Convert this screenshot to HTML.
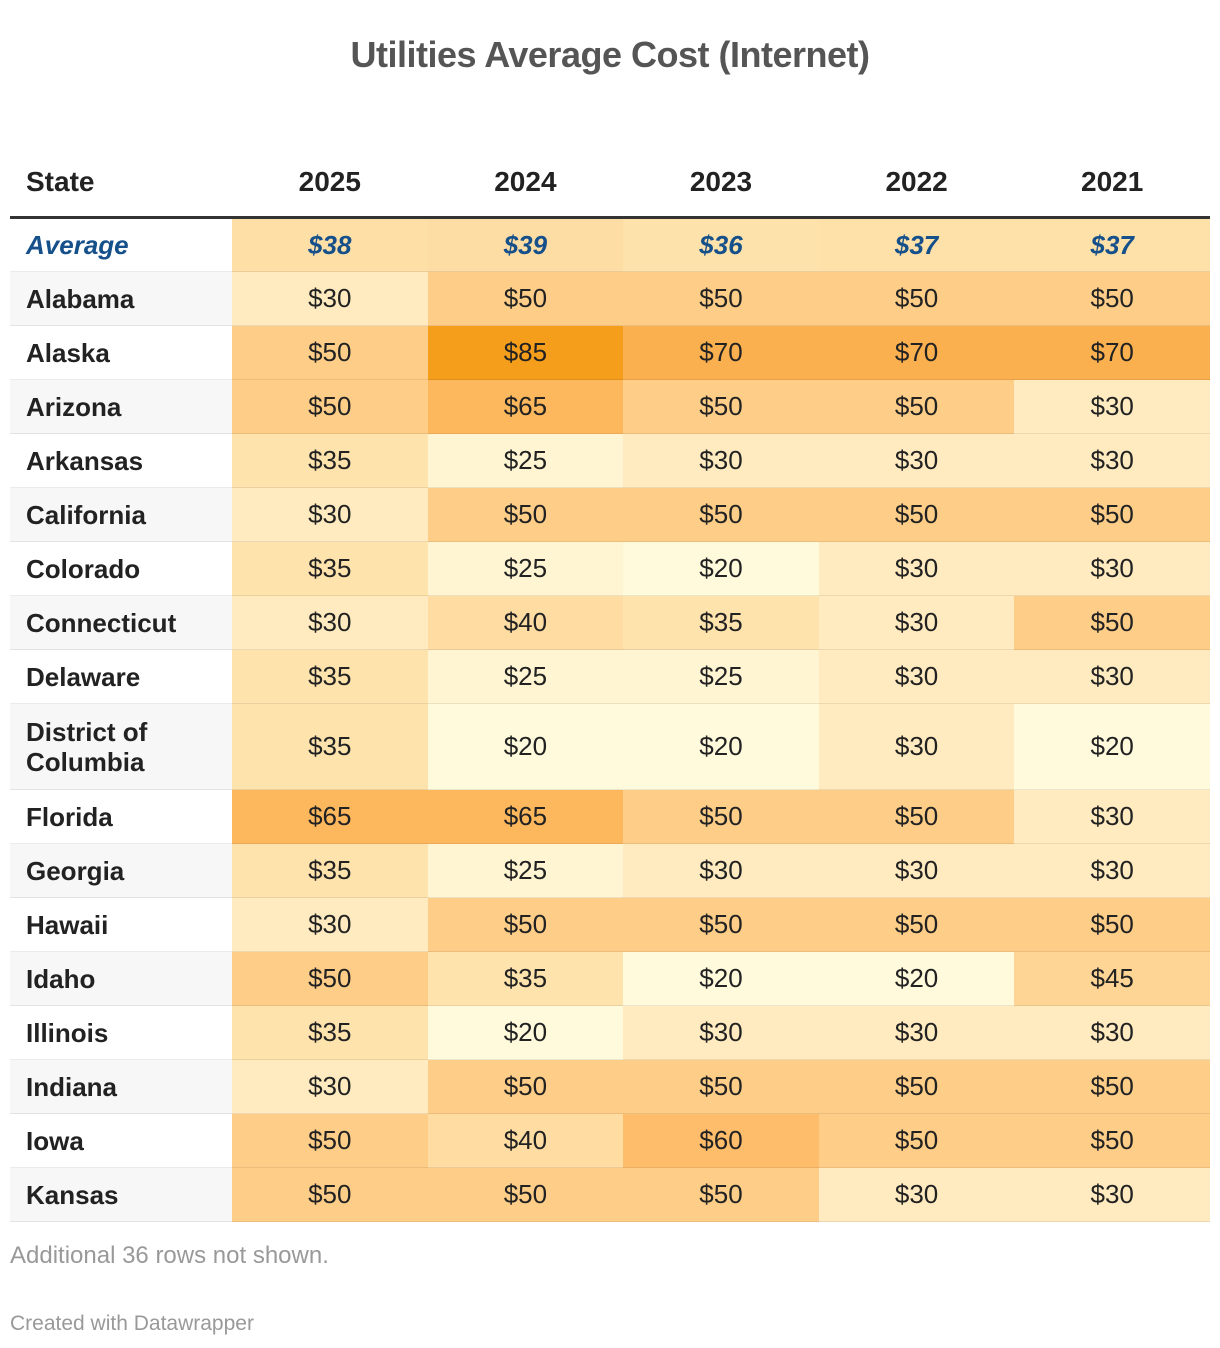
<!DOCTYPE html>
<html><head><meta charset="utf-8"><style>
body{margin:0;width:1220px;height:1348px;background:#fff;font-family:"Liberation Sans",Roboto,sans-serif;position:relative;overflow:hidden}
h1{position:absolute;top:34px;left:0;width:1220px;text-align:center;margin:0;font-size:36px;font-weight:bold;color:#555;letter-spacing:-0.5px}
#tbl{position:absolute;left:10px;top:152px;width:1200px}
.hdr{position:absolute;top:0;height:64px;font-weight:bold;font-size:28px;color:#222;line-height:60px}
.line{position:absolute;left:0;top:64px;width:1200px;height:3px;background:#333}
.cell{position:absolute;box-sizing:border-box;display:flex;align-items:center;justify-content:center;font-size:26px;color:#222;border-bottom:1px solid rgba(0,0,0,0.08)}
.st{justify-content:flex-start;padding-left:16px;font-weight:bold;line-height:30px}
.foot{position:absolute;left:10px;color:#999}
</style></head><body>
<h1>Utilities Average Cost (Internet)</h1>
<div id="tbl"></div>
<div class="foot" style="top:1242px;font-size:24px">Additional 36 rows not shown.</div>
<div class="foot" style="top:1312px;font-size:21px">Created with Datawrapper</div>
<script>
const years=["2025","2024","2023","2022","2021"];
const states=["Alabama","Alaska","Arizona","Arkansas","California","Colorado","Connecticut","Delaware","District of Columbia","Florida","Georgia","Hawaii","Idaho","Illinois","Indiana","Iowa","Kansas"];
const averages=[38,39,36,37,37];
const v2025=[30,50,50,35,30,35,30,35,35,65,35,30,50,35,30,50,50];
const v2024=[50,85,65,25,50,25,40,25,20,65,25,50,35,20,50,40,50];
const v2023=[50,70,50,30,50,20,35,25,20,50,30,50,20,30,50,60,50];
const v2022=[50,70,50,30,50,30,30,30,30,50,30,50,20,30,50,50,30];
const v2021=[50,70,30,30,50,30,50,30,20,30,30,50,45,30,50,50,30];
const series=[v2025,v2024,v2023,v2022,v2021];
const stops=[[20,[255,250,220]],[25,[255,245,210]],[30,[255,235,191]],[35,[254,227,173]],[40,[254,220,162]],[50,[254,206,136]],[60,[253,189,106]],[65,[253,184,94]],[70,[251,176,80]],[85,[245,158,28]]];
function color(v){for(let i=0;i<stops.length-1;i++){const a=stops[i],b=stops[i+1];if(v<=b[0]){const t=Math.max(0,(v-a[0])/(b[0]-a[0]));return 'rgb('+a[1].map((c,k)=>Math.round(c+(b[1][k]-c)*t)).join(',')+')';}}return 'rgb(245,158,28)';}
const T=document.getElementById('tbl');
const CW=195.6;
const colX=i=>222+i*CW;
function add(cls,x,y,w,h,txt,style){const d=document.createElement('div');d.className=cls;d.style.cssText=`left:${x}px;top:${y}px;width:${w}px;height:${h}px;`+(style||'');d.textContent=txt;T.appendChild(d);return d;}
let h=add('hdr',16,0,200,64,'State');


years.forEach((y,i)=>{const e=add('hdr',colX(i),0,CW,64,y,'text-align:center');

});
const ln=document.createElement('div');ln.className='line';T.appendChild(ln);


let y=67;
let a=add('cell st',0,y,222,53,'Average','color:#15508a;font-style:italic;');


averages.forEach((v,i)=>{const c=add('cell',colX(i),y,CW,53,'$'+v,'background:'+color(v)+';color:#15508a;font-style:italic;font-weight:bold;');

});
y+=53;
states.forEach((s,r)=>{const hh=s.length>15?86:54;
const sc=add('cell st',0,y,222,hh,s,'background:'+(r%2===0?'#f7f7f7':'#fff')+';');


series.forEach((arr,i)=>{const c=add('cell',colX(i),y,CW,hh,'$'+arr[r],'background:'+color(arr[r])+';');

});
y+=hh;});
</script>
</body></html>
